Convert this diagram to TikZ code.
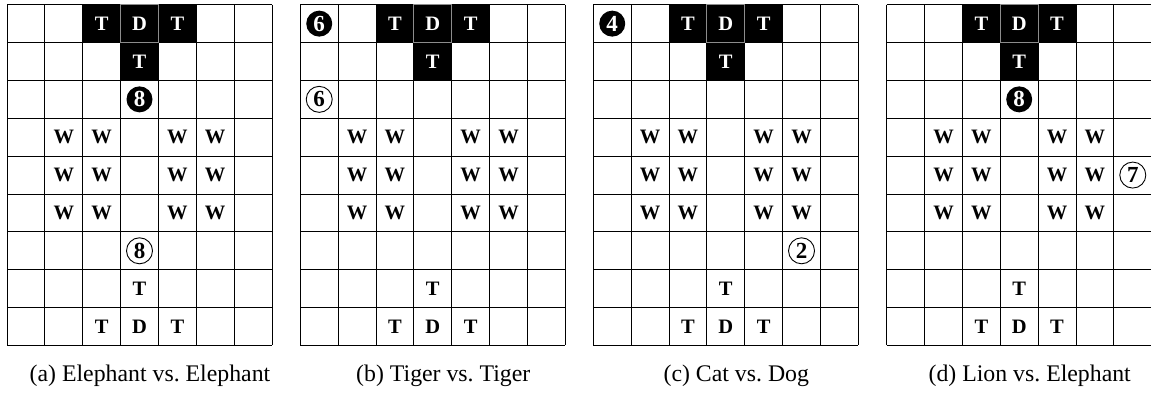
\documentclass[tikz,border=0pt]{standalone}
\usepackage{fontspec}
\setmainfont{Liberation Serif}
\begin{document}
\begin{tikzpicture}[x=1pt,y=-1pt,
  gridline/.style={line width=1pt, draw=black},
  dline/.style={line width=1pt, draw=black!45},
  lab/.style={font=\fontsize{20.5}{24}\selectfont\bfseries, inner sep=0pt},
  wlab/.style={lab, text=white},
  fullcirc/.style={circle, fill=black, text=white, minimum size=26pt, inner sep=0pt, font=\fontsize{23}{26}\selectfont\bfseries},
  opencirc/.style={circle, draw=black, line width=0.9pt, minimum size=26pt, inner sep=0pt, font=\fontsize{23}{26}\selectfont\bfseries},
  captionlab/.style={font=\fontsize{23.8}{28}\selectfont, anchor=base, inner sep=0pt}]
\useasboundingbox (0,0) rectangle (1151,392);
\def\cs{37.86}
\def\yo{4.7}
\foreach \k/\xo/\fr/\fc/\fn/\pr/\pc/\pn/\captxt in {
  a/7/2/3/8/6/3/8/{(a) Elephant vs.\ Elephant},
  b/300.3/0/0/6/2/0/6/{(b) Tiger vs.\ Tiger},
  c/593.3/0/0/4/6/5/2/{(c) Cat vs.\ Dog},
  d/886.7/2/3/8/4/6/7/{(d) Lion vs.\ Elephant}}{
  % black cells
  \fill[black] ({\xo+2*\cs},\yo) rectangle ++({3*\cs},\cs);
  \fill[black] ({\xo+3*\cs},{\yo+\cs}) rectangle ++(\cs,\cs);
  % grid
  \foreach \i in {0,...,7}
    \draw[gridline] ({\xo+\i*\cs},\yo) -- ({\xo+\i*\cs},{\yo+9*\cs});
  \foreach \j in {0,...,9}
    \draw[gridline] (\xo,{\yo+\j*\cs}) -- ({\xo+7*\cs},{\yo+\j*\cs});
  \draw[dline] ({\xo+3*\cs},\yo) rectangle ++(\cs,\cs);
  % top (black) pieces
  \node[wlab] (\k-t1) at ({\xo+2.5*\cs},{\yo+0.5*\cs}) {T};
  \node[wlab] (\k-d1) at ({\xo+3.5*\cs},{\yo+0.5*\cs}) {D};
  \node[wlab] (\k-t2) at ({\xo+4.5*\cs},{\yo+0.5*\cs}) {T};
  \node[wlab] (\k-t3) at ({\xo+3.5*\cs},{\yo+1.5*\cs}) {T};
  % walls
  \foreach \r in {3,4,5}
    \foreach \c in {1,2,4,5}
      \node[lab] (\k-w\r\c) at ({\xo+(\c+0.5)*\cs},{\yo+(\r+0.5)*\cs}) {W};
  % bottom pieces
  \node[lab] (\k-t4) at ({\xo+3.5*\cs},{\yo+7.5*\cs}) {T};
  \node[lab] (\k-t5) at ({\xo+2.5*\cs},{\yo+8.5*\cs}) {T};
  \node[lab] (\k-d2) at ({\xo+3.5*\cs},{\yo+8.5*\cs}) {D};
  \node[lab] (\k-t6) at ({\xo+4.5*\cs},{\yo+8.5*\cs}) {T};
  % circles
  \node[fullcirc] (\k-fc) at ({\xo+(\fc+0.5)*\cs},{\yo+(\fr+0.5)*\cs}) {\fn};
  \node[opencirc] (\k-oc) at ({\xo+(\pc+0.5)*\cs},{\yo+(\pr+0.5)*\cs}) {\pn};
  % caption
  \node[captionlab] (\k-cap) at ({\xo+143},381) {\captxt};
}
\end{tikzpicture}
\end{document}
